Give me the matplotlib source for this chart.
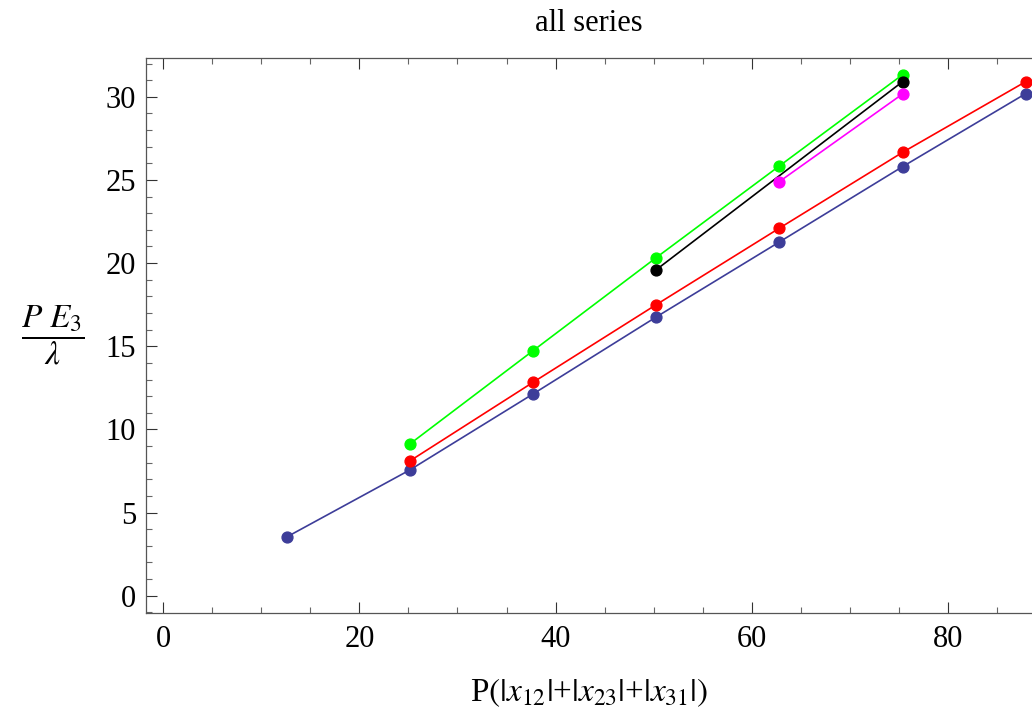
import numpy as np
import matplotlib.pyplot as plt
from matplotlib.ticker import MultipleLocator

# valeurs
x_all = [12.57, 25.13, 37.70, 50.27, 62.83, 75.40, 87.96]

blue_x = x_all
blue_y = [3.53, 7.56, 12.13, 16.76, 21.27, 25.80, 30.19]

red_x = x_all[1:]
red_y = [8.10, 12.83, 17.50, 22.10, 26.66, 30.91]

green_x = x_all[1:6]
green_y = [9.12, 14.73, 20.33, 25.84, 31.33]

black_x = [50.27, 75.40]
black_y = [19.60, 30.91]

magenta_x = [62.83, 75.40]
magenta_y = [24.90, 30.17]

plt.rcParams['font.family'] = ['Liberation Serif', 'DejaVu Serif']
plt.rcParams['mathtext.fontset'] = 'stix'

fig = plt.figure(figsize=(10.32, 7.24), dpi=100)
ax = fig.add_axes([0.1412, 0.1537, 0.8588, 0.7666])

series = [
    (blue_x, blue_y, '#3d3d99'),
    (red_x, red_y, '#ff0000'),
    (green_x, green_y, '#00ff00'),
    (black_x, black_y, '#000000'),
    (magenta_x, magenta_y, '#ff00ff'),
]
for xs, ys, c in series:
    ax.plot(xs, ys, color=c, lw=1.2, marker='o', ms=7.8, clip_on=False)

ax.set_xlim(-1.8, 88.6)
ax.set_ylim(-1.02, 32.35)

ax.xaxis.set_major_locator(MultipleLocator(20))
ax.xaxis.set_minor_locator(MultipleLocator(5))
ax.yaxis.set_major_locator(MultipleLocator(5))
ax.yaxis.set_minor_locator(MultipleLocator(1))

ax.tick_params(which='both', direction='in', top=True, right=False,
               width=0.8, labelsize=22, color='#333333')
ax.tick_params(axis='x', which='major', length=8, pad=9)
ax.tick_params(axis='y', which='major', length=8, pad=7)
ax.tick_params(which='minor', length=4.5, color='#666666')

for s in ['left', 'bottom', 'top']:
    ax.spines[s].set_color('#555555')
    ax.spines[s].set_linewidth(0.9)
ax.spines['right'].set_visible(False)

ax.set_title('all series', fontsize=22, pad=19)
ax.set_xlabel(r'P$(|x_{12}|$+$|x_{23}|$+$|x_{31}|)$', fontsize=24, labelpad=16)
ax.set_ylabel(r'$\dfrac{P\ E_3}{\lambda}$', fontsize=24, rotation=0,
              labelpad=38, va='center')

fig.savefig('out.png', dpi=100)
